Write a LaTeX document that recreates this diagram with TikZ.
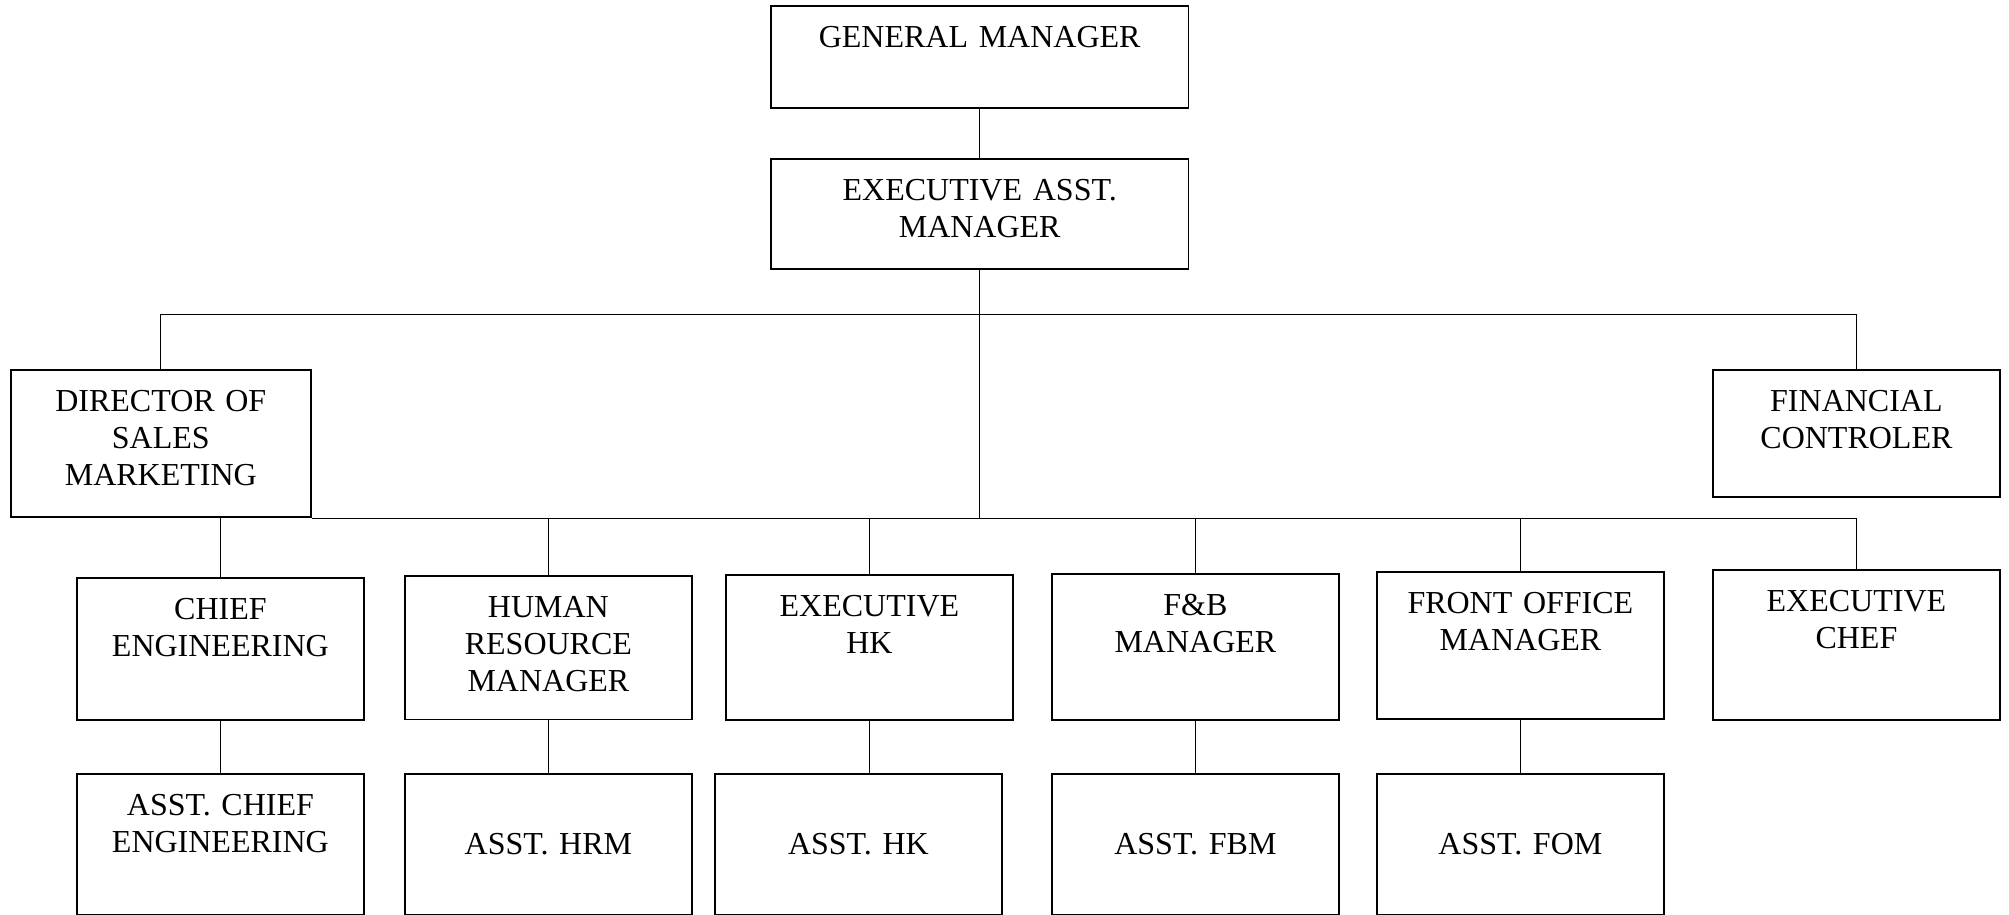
\documentclass[tikz,border=0pt]{standalone}
\usepackage{fontspec}
\setmainfont{Liberation Serif}

\begin{document}
\begin{tikzpicture}[x=0.5pt,y=-0.5pt,
  box/.style={draw,line width=0.9pt,align=center,inner xsep=0pt,anchor=north west,font=\fontsize{16}{18.6}\selectfont,text width=143.5pt},
  toptext/.style={inner ysep=10pt,text height=10.6pt,text depth=#1},
  link/.style={line width=0.5pt}]
\useasboundingbox (0,0) rectangle (2009,915);
% management
\node[box,text width=208.8pt,toptext=20.6pt] (gm) at (770,5) {GENERAL MANAGER};
\node[box,text width=208.8pt,toptext=24.5pt] (eam) at (770,158) {EXECUTIVE ASST.\\MANAGER};
\node[box,text width=149.9pt,toptext=43.1pt] (dsm) at (10,369) {DIRECTOR OF\\SALES\\MARKETING};
\node[box,toptext=32.8pt] (fc) at (1712,369) {FINANCIAL\\CONTROLER};
% department heads
\node[box,toptext=40.5pt] (ce) at (76,577) {CHIEF\\ENGINEERING};
\node[box,toptext=41.2pt] (hrm) at (404,575) {HUMAN\\RESOURCE\\MANAGER};
\node[box,toptext=41.8pt] (hk) at (725,574) {EXECUTIVE\\HK};
\node[box,toptext=42.4pt] (fbm) at (1051,573) {F\&B\\MANAGER};
\node[box,toptext=43pt] (fom) at (1376,571) {FRONT OFFICE\\MANAGER};
\node[box,toptext=44.3pt] (ec) at (1712,569) {EXECUTIVE\\CHEF};
% assistants
\node[box,toptext=40.1pt] (ace) at (76,773) {ASST. CHIEF\\ENGINEERING};
\node[box,minimum height=70.7pt] (ahrm) at (404,773) {ASST. HRM};
\node[box,minimum height=70.7pt] (ahk) at (714,773) {ASST. HK};
\node[box,minimum height=70.7pt] (afbm) at (1051,773) {ASST. FBM};
\node[box,minimum height=70.7pt] (afom) at (1376,773) {ASST. FOM};
% lines
\coordinate (bus) at (0,314);
\draw[link] (gm.south) -- (eam.north);
\draw[link] (eam.south) -- (eam.south |- dsm.south);
\draw[link] (dsm.north) -- (dsm.north |- bus) -- (fc.north |- bus) -- (fc.north);
\draw[link] (dsm.south east) -- (ec.north |- dsm.south) -- (ec.north);
\foreach \n in {ce,hrm,hk,fbm,fom}
  \draw[link] (\n.north |- dsm.south) -- (\n.north);
\foreach \a/\b in {ce/ace,hrm/ahrm,hk/ahk,fbm/afbm,fom/afom}
  \draw[link] (\a.south) -- (\a.south |- \b.north);
\end{tikzpicture}
\end{document}
